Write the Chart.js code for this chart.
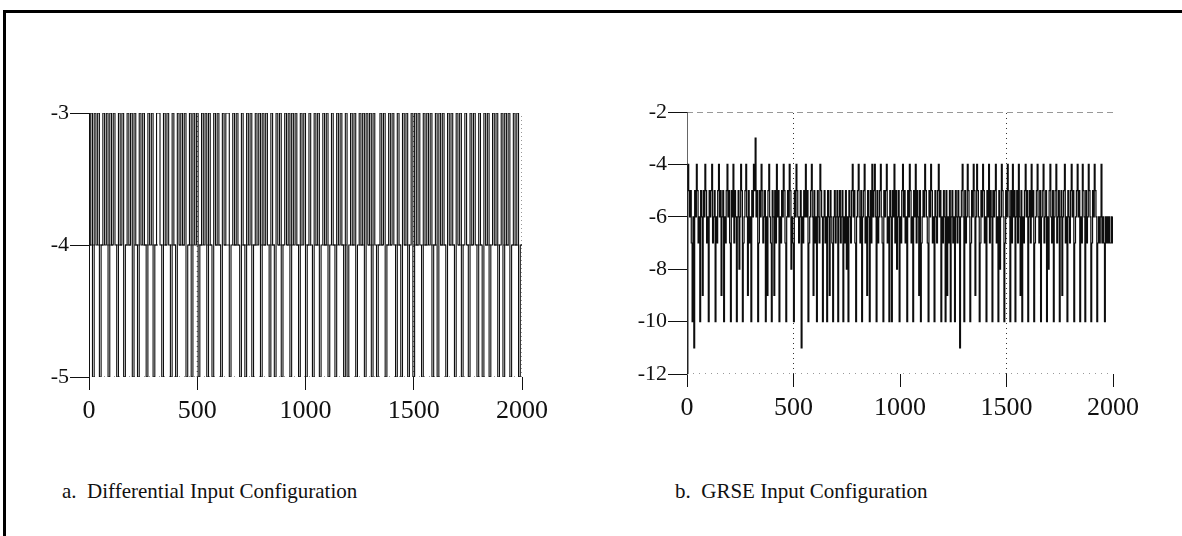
<!DOCTYPE html>
<html>
<head>
<meta charset="utf-8">
<script src="https://cdn.jsdelivr.net/npm/chart.js@4.4.0/dist/chart.umd.min.js"></script>
<style>
  html, body { margin: 0; padding: 0; background: #fff; overflow: hidden; }
  body { width: 1182px; height: 536px; position: relative; font-family: "Liberation Serif", "Times New Roman", serif; }
  .rule-top { position: absolute; left: 3px; top: 10px; width: 1179px; height: 3px; background: #000; }
  .rule-left { position: absolute; left: 3px; top: 10px; width: 3px; height: 526px; background: #000; }
  .box { position: absolute; top: 90px; width: 560px; height: 340px; }
  #boxA { left: 20px; }
  #boxB { left: 620px; }
  .caption { position: absolute; top: 479px; font-size: 21px; color: #111; white-space: pre; }
</style>
</head>
<body>
<div class="rule-top"></div>
<div class="rule-left"></div>
<div class="box" id="boxA"><canvas id="chartA"></canvas></div>
<div class="box" id="boxB"><canvas id="chartB"></canvas></div>
<div class="caption" style="left:62px">a.  Differential Input Configuration</div>
<div class="caption" style="left:675px">b.  GRSE Input Configuration</div>
<script>
const xTicks = [0, 500, 1000, 1500, 2000];
const xGridAt = [500, 1500];

// a. differential input: readings between -3 and -5, one every 8 samples
const diffStep = 8;
const diffTicks = [-3, -4, -5];
const diffValues = [
  -4,-3,-5,-3,-4,-3,-5,-4,-3,-4,
  -3,-5,-3,-4,-3,-4,-5,-3,-4,-3,
  -5,-4,-3,-4,-3,-5,-3,-4,-5,-3,
  -4,-3,-4,-5,-3,-4,-3,-5,-4,-3,
  -3,-4,-5,-3,-4,-3,-4,-5,-3,-4,
  -5,-3,-4,-3,-4,-3,-5,-4,-3,-5,
  -3,-4,-3,-5,-4,-3,-4,-3,-5,-3,
  -4,-5,-3,-4,-3,-4,-5,-3,-4,-3,
  -3,-5,-4,-3,-4,-3,-4,-5,-3,-4,
  -5,-3,-4,-3,-5,-4,-3,-4,-3,-5,
  -3,-4,-3,-4,-5,-3,-4,-5,-3,-4,
  -3,-5,-4,-3,-4,-3,-5,-3,-4,-3,
  -4,-5,-3,-4,-3,-5,-4,-3,-4,-5,
  -3,-4,-3,-5,-4,-3,-4,-3,-5,-4,
  -3,-4,-5,-3,-4,-3,-4,-5,-3,-5,
  -4,-3,-4,-3,-5,-4,-3,-4,-3,-5,
  -3,-4,-3,-5,-3,-4,-5,-4,-3,-4,
  -3,-5,-4,-3,-4,-3,-4,-5,-3,-4,
  -5,-3,-4,-3,-5,-4,-3,-5,-3,-4,
  -3,-4,-5,-3,-4,-3,-4,-3,-5,-4,
  -3,-5,-3,-4,-3,-4,-5,-3,-4,-3,
  -4,-5,-3,-4,-3,-5,-4,-3,-4,-5,
  -3,-4,-3,-4,-5,-3,-4,-5,-3,-4,
  -3,-5,-4,-3,-4,-3,-5,-4,-3,-5,
  -3,-4,-3,-5,-4,-3,-4,-3,-5,-4,
  -4
];

// b. GRSE input: readings between -3 and -12, one every 4 samples
const grseStep = 4;
const grseTicks = [-2, -4, -6, -8, -10, -12];
const grseValues = [
  -12,-4,-5,-6,-5,-7,-10,-6,-11,-5,-6,-4,-5,-7,-6,-10,-5,-6,-9,-5,
  -6,-4,-5,-7,-6,-10,-5,-6,-5,-4,-7,-6,-5,-10,-6,-7,-5,-4,-6,-5,
  -9,-6,-5,-10,-6,-7,-5,-4,-6,-5,-7,-10,-5,-6,-4,-7,-5,-6,-10,-6,
  -5,-8,-6,-4,-5,-10,-7,-6,-5,-4,-6,-9,-5,-7,-6,-10,-5,-6,-4,-5,
  -3,-6,-5,-10,-7,-5,-6,-4,-5,-7,-6,-5,-10,-6,-9,-5,-4,-6,-7,-10,
  -5,-6,-9,-5,-7,-4,-6,-5,-10,-6,-7,-5,-6,-4,-5,-7,-10,-6,-5,-6,
  -4,-5,-8,-6,-7,-10,-5,-6,-4,-5,-6,-7,-6,-5,-11,-6,-7,-5,-6,-4,
  -6,-5,-10,-7,-6,-5,-4,-6,-9,-5,-7,-6,-10,-5,-6,-7,-4,-5,-6,-10,
  -6,-5,-7,-6,-10,-5,-6,-9,-5,-6,-7,-10,-6,-5,-7,-6,-5,-10,-6,-5,
  -7,-6,-5,-10,-6,-7,-5,-8,-6,-10,-5,-6,-7,-5,-4,-6,-5,-7,-10,-6,
  -5,-4,-6,-7,-5,-10,-6,-5,-4,-7,-6,-9,-5,-6,-10,-5,-7,-4,-6,-5,
  -4,-6,-10,-5,-7,-6,-5,-4,-6,-7,-10,-5,-6,-5,-4,-7,-6,-10,-5,-6,
  -10,-5,-6,-4,-7,-5,-8,-6,-5,-10,-6,-7,-5,-4,-6,-5,-7,-6,-10,-5,
  -6,-4,-5,-7,-6,-10,-5,-6,-4,-7,-5,-6,-9,-5,-10,-7,-6,-5,-6,-4,
  -5,-6,-7,-10,-5,-6,-4,-5,-7,-6,-10,-5,-6,-7,-5,-4,-6,-5,-10,-6,
  -7,-5,-6,-10,-5,-9,-6,-7,-5,-10,-6,-5,-7,-6,-10,-5,-6,-7,-5,-6,
  -11,-6,-5,-4,-6,-10,-5,-7,-6,-4,-5,-6,-10,-7,-5,-6,-4,-5,-9,-6,
  -4,-5,-6,-10,-7,-5,-6,-4,-5,-7,-6,-10,-5,-6,-4,-7,-5,-6,-10,-5,
  -6,-5,-4,-7,-6,-10,-5,-8,-6,-4,-5,-6,-10,-7,-5,-6,-4,-5,-6,-10,
  -5,-7,-4,-6,-5,-10,-6,-5,-7,-4,-6,-9,-5,-10,-6,-7,-5,-4,-6,-5,
  -10,-6,-5,-7,-4,-6,-5,-10,-7,-6,-5,-4,-6,-7,-5,-10,-6,-5,-4,-7,
  -6,-5,-10,-6,-8,-5,-4,-6,-7,-5,-10,-6,-5,-4,-7,-6,-5,-10,-6,-5,
  -9,-6,-5,-4,-7,-6,-10,-5,-6,-7,-5,-4,-6,-5,-10,-7,-6,-5,-4,-6,
  -5,-10,-6,-7,-4,-5,-6,-10,-5,-7,-6,-4,-5,-6,-10,-7,-5,-6,-4,-5,
  -6,-10,-7,-6,-7,-6,-4,-7,-6,-7,-10,-6,-7,-6,-7,-6,-7,-7,-6,-7,
  -6
];

const serif = "'Liberation Serif', 'Times New Roman', serif";

function refLine(points, dash) {
  return {
    data: points, borderColor: '#333', borderWidth: 1, borderDash: dash,
    pointRadius: 0, stepped: false, fill: false, order: 2
  };
}

function makeChart(id, values, step, yTicks, opts) {
  const yMin = Math.min(...yTicks), yMax = Math.max(...yTicks);
  const trace = values.map((v, i) => ({ x: i * step, y: v }));
  const refs = [];
  xGridAt.forEach(x => refs.push(refLine([{x: x, y: yMin}, {x: x, y: yMax}], [1, 4])));
  opts.hLines.forEach(h => refs.push(refLine([{x: 0, y: h.y}, {x: 2000, y: h.y}], h.dash)));
  (opts.vLines || []).forEach(x => refs.push(refLine([{x: x, y: yMin}, {x: x, y: yMax}], [1, 3])));

  return new Chart(document.getElementById(id), {
    type: 'line',
    data: {
      datasets: [{
        data: trace, borderColor: '#0d0d0d', borderWidth: opts.lineWidth, pointRadius: 0,
        stepped: true, fill: false, order: 1
      }, ...refs]
    },
    options: {
      responsive: true, maintainAspectRatio: false, animation: false,
      layout: { padding: opts.padding },
      plugins: { legend: { display: false }, tooltip: { enabled: false } },
      scales: {
        x: {
          type: 'linear', min: 0, max: 2000,
          afterBuildTicks: s => { s.ticks = xTicks.map(v => ({ value: v })); },
          afterFit: s => { s.height = opts.xHeight; },
          grid: { drawOnChartArea: false, drawTicks: true, tickLength: 13, tickColor: '#111', color: '#111' },
          border: { display: false },
          ticks: { color: '#111', font: { family: serif, size: 26 }, padding: 6, maxRotation: 0, callback: v => String(v) }
        },
        y: {
          type: 'linear', min: yMin, max: yMax,
          afterBuildTicks: s => { s.ticks = yTicks.map(v => ({ value: v })); },
          afterFit: s => { s.width = opts.yWidth; },
          grid: { drawOnChartArea: false, drawTicks: true, tickLength: 19, tickColor: '#111', color: '#111' },
          border: { display: true, color: opts.yBorder, width: 1 },
          ticks: { color: '#111', font: { family: serif, size: 22 }, padding: 1, callback: v => String(v) }
        }
      }
    }
  });
}

makeChart('chartA', diffValues, diffStep, diffTicks, {
  padding: { top: 23, right: 58, bottom: 0, left: 0 },
  xHeight: 53, yWidth: 69, yBorder: '#111', lineWidth: 1.1,
  hLines: [{ y: -5, dash: [1, 4] }, { y: -4, dash: [6, 3] }],
  vLines: [2000]
});

makeChart('chartB', grseValues, grseStep, grseTicks, {
  padding: { top: 22, right: 67, bottom: 0, left: 0 },
  xHeight: 56, yWidth: 67, yBorder: '#666', lineWidth: 1.2,
  hLines: [{ y: -2, dash: [6, 4] }, { y: -12, dash: [1, 5] }]
});
</script>
</body>
</html>
